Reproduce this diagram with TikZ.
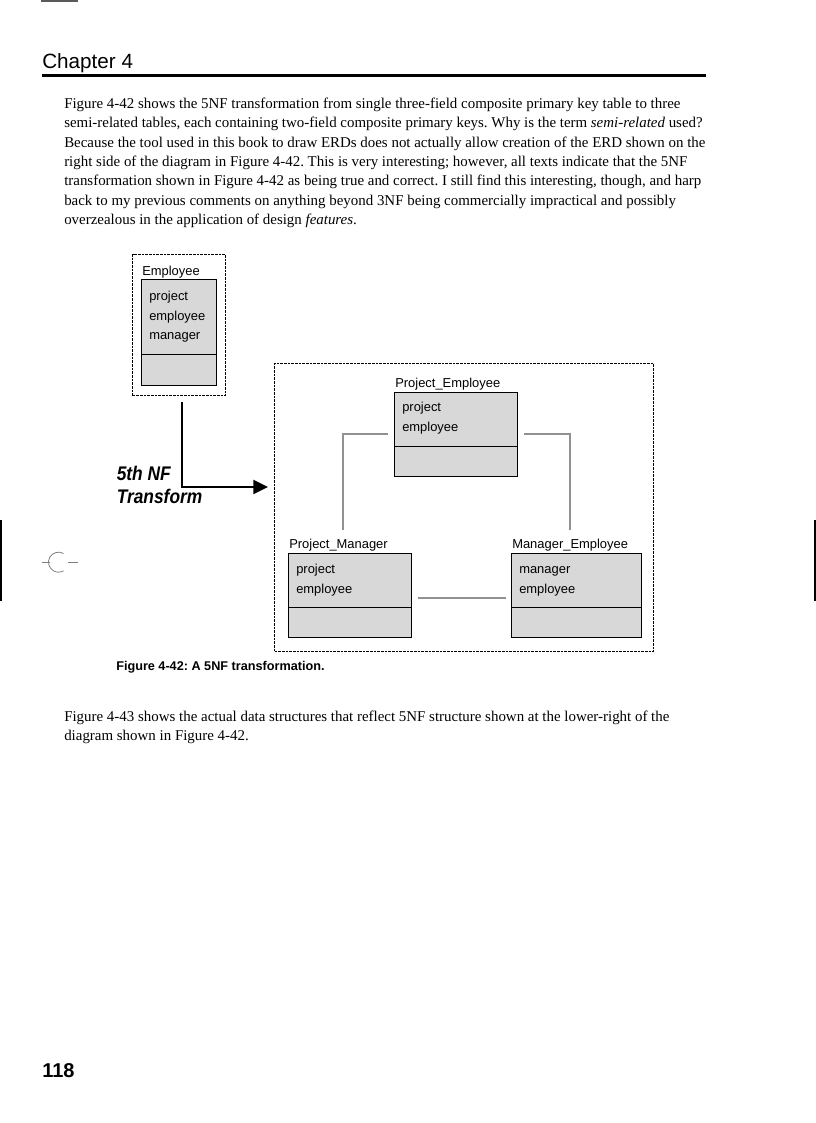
\documentclass[tikz,border=0pt]{standalone}
\usepackage{fontspec}
\setmainfont{Liberation Serif}
\setsansfont{Liberation Sans}
\newfontfamily\nffont[FakeStretch=0.88]{Liberation Sans}
\usetikzlibrary{arrows.meta,positioning}
\definecolor{tablegray}{RGB}{216,216,216}
\definecolor{linkgray}{RGB}{145,145,145}
\definecolor{markgray}{RGB}{90,90,90}
\tikzset{
  bodytext/.style={anchor=base west,inner sep=0pt,font=\fontsize{11.2}{13}\selectfont\frenchspacing},
  fieldtext/.style={anchor=base west,inner sep=0pt,font=\sffamily\fontsize{9.7}{11}\selectfont},
  tablebox/.style={fill=tablegray,draw=black,line width=1.1pt,anchor=north west,inner sep=0pt},
  groupbox/.style={draw=black,line width=0.9pt,dash pattern=on 2pt off 0.75pt,anchor=north west,inner sep=0pt},
  link/.style={draw=linkgray,line width=1.6pt},
  nftext/.style={anchor=base west,inner sep=0pt,font=\nffont\bfseries\itshape\fontsize{14.8}{16}\selectfont},
}
\begin{document}
\begin{tikzpicture}[x=0.75pt,y=-0.75pt]
        \useasboundingbox (0,0) rectangle (816,1123);
        %Page marks
        \draw[markgray,line width=1.2pt] (41,0.8) -- (78,0.8);
        \draw[black,line width=1.2pt] (0.8,520) -- (0.8,601);
        \draw[black,line width=1.2pt] (815.2,520) -- (815.2,601);
        \draw[gray,line width=0.6pt] (42,562) -- (50,562);
        \draw[gray,line width=0.6pt] (68,562) -- (78,562);
        \draw[gray,line width=0.6pt] (63.5,553.5) arc[start angle=60,end angle=300,radius=7.5pt];
        %Header
        \node[anchor=base west,inner sep=0pt,font=\sffamily\fontsize{15.5}{18}\selectfont] (chap) at (42,68.5) {Chapter 4};
        \draw[line width=2.25pt] (42,75.5) -- (706,75.5);
        %First paragraph
        \node[bodytext] (pa1) at (64,108.5) {Figure 4-42 shows the 5NF transformation from single three-field composite primary key table to three};
        \node[bodytext] (pa2) at (64,127.8) {semi-related tables, each containing two-field composite primary keys. Why is the term \textit{semi-related} used?};
        \node[bodytext] (pa3) at (64,147.1) {Because the tool used in this book to draw ERDs does not actually allow creation of the ERD shown on the};
        \node[bodytext] (pa4) at (64,166.4) {right side of the diagram in Figure 4-42. This is very interesting; however, all texts indicate that the 5NF};
        \node[bodytext] (pa5) at (64,185.7) {transformation shown in Figure 4-42 as being true and correct. I still find this interesting, though, and harp};
        \node[bodytext] (pa6) at (64,205.0) {back to my previous comments on anything beyond 3NF being commercially impractical and possibly};
        \node[bodytext] (pa7) at (64,224.3) {overzealous in the application of design \textit{features}.};
        %Group boxes
        \node[groupbox,minimum width=69.75pt,minimum height=105.75pt] (empgroup) at (132,254) {};
        \node[groupbox,minimum width=284.25pt,minimum height=216pt] (bigbox) at (274,363) {};
        %Tables
        \node[tablebox,minimum width=56.25pt,minimum height=79.5pt] (emp) at (141,279) {};
        \node[tablebox,minimum width=92.25pt,minimum height=63pt] (pe) at (394,392) {};
        \node[tablebox,minimum width=92.25pt,minimum height=63pt] (pm) at (288,553) {};
        \node[tablebox,minimum width=97.5pt,minimum height=63pt] (me) at (511,553) {};
        \draw[line width=1.1pt] ([yshift=24pt]emp.south west) -- ([yshift=24pt]emp.south east);
        \draw[line width=1.1pt] ([yshift=23.25pt]pe.south west) -- ([yshift=23.25pt]pe.south east);
        \draw[line width=1.1pt] ([yshift=23.25pt]pm.south west) -- ([yshift=23.25pt]pm.south east);
        \draw[line width=1.1pt] ([yshift=23.25pt]me.south west) -- ([yshift=23.25pt]me.south east);
        %Table names and fields
        \node[fieldtext] (empname) at (142,275) {Employee};
        \node[fieldtext] (empf1) at (149,300) {project};
        \node[fieldtext] (empf2) at (149,320) {employee};
        \node[fieldtext] (empf3) at (149,339.5) {manager};
        \node[fieldtext] (pename) at (395,387.5) {Project\_Employee};
        \node[fieldtext] (pef1) at (402,411.5) {project};
        \node[fieldtext] (pef2) at (402,431.5) {employee};
        \node[fieldtext] (pmname) at (289,548.5) {Project\_Manager};
        \node[fieldtext] (pmf1) at (296,573.5) {project};
        \node[fieldtext] (pmf2) at (296,593.5) {employee};
        \node[fieldtext] (mename) at (512,548.5) {Manager\_Employee};
        \node[fieldtext] (mef1) at (519,573.5) {manager};
        \node[fieldtext] (mef2) at (519,593.5) {employee};
        %Relationships
        \coordinate (peW) at ([xshift=-4.5pt,yshift=0.75pt]pe.west);
        \coordinate (peE) at ([xshift=4.5pt,yshift=0.75pt]pe.east);
        \coordinate (pmTop) at (343,530);
        \coordinate (meTop) at (570,530);
        \draw[link] (peW) -| (pmTop);
        \draw[link] (peE) -| (meTop);
        \draw[link] ([xshift=4.5pt,yshift=-1.5pt]pm.east) -- ([xshift=-3.75pt,yshift=-1.5pt]me.west);
        %Transform arrow
        \coordinate (arrStart) at (182,402);
        \coordinate (arrEnd) at (268,487);
        \draw[line width=1.5pt,-{Triangle[length=11pt,width=10.5pt]}] (arrStart) |- (arrEnd);
        \node[nftext] (nf1) at (116.5,480) {5th NF};
        \node[nftext] (nf2) at (116.5,503.5) {Transform};
        %Caption
        \node[anchor=base west,inner sep=0pt,font=\sffamily\bfseries\fontsize{9.5}{11}\selectfont\frenchspacing] (cap) at (116,670) {Figure 4-42: A 5NF transformation.};
        %Second paragraph
        \node[bodytext] (pb1) at (64,721) {Figure 4-43 shows the actual data structures that reflect 5NF structure shown at the lower-right of the};
        \node[bodytext] (pb2) at (64,740.3) {diagram shown in Figure 4-42.};
        %Page number
        \node[anchor=base west,inner sep=0pt,font=\sffamily\bfseries\fontsize{15}{17}\selectfont] (pageno) at (42,1077) {118};
      \end{tikzpicture}
\end{document}
